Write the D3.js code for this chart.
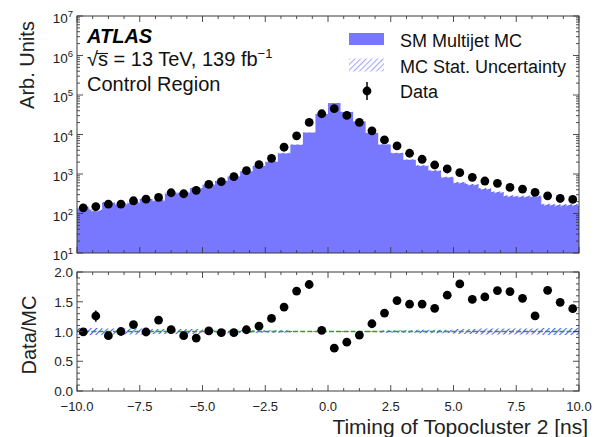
<!DOCTYPE html>
<html><head><meta charset="utf-8">
<script src="https://cdn.jsdelivr.net/npm/d3@7"></script>
<style>
html,body{margin:0;padding:0;background:#fff;}
svg{display:block;font-family:"Liberation Sans",Arial,Helvetica,sans-serif;}
</style></head><body>
<svg id="chart" width="594" height="437"></svg>
<script>
// Timing of topocluster 2, 0.5 ns bins
const binCenters = [-9.75,-9.25,-8.75,-8.25,-7.75,-7.25,-6.75,-6.25,-5.75,-5.25,
  -4.75,-4.25,-3.75,-3.25,-2.75,-2.25,-1.75,-1.25,-0.75,-0.25,
  0.25,0.75,1.25,1.75,2.25,2.75,3.25,3.75,4.25,4.75,
  5.25,5.75,6.25,6.75,7.25,7.75,8.25,8.75,9.25,9.75];
const binWidth = 0.5;

// Observed data (arb. units)
const dataCounts = [139,150,173,173,210,231,255,335,316,385,
  545,638,855,1217,1726,2500,4760,9250,20200,33500,
  45000,30400,20200,12400,7310,5150,3350,2360,1690,1340,
  1080,822,664,579,458,416,342,281,240,227];

// SM multijet MC prediction (arb. units)
const mcCounts = [140,119,186,173,188,233,214,325,340,433,
  540,651,872,1182,1583,2049,3376,5506,11285,32843,
  62500,37073,21489,10973,5580,3388,2295,1616,1216,832,
  600,534,420,343,274,267,271,166,161,164];

// Relative MC statistical uncertainty per bin
const mcRelUnc = [0.06,0.06,0.05,0.05,0.05,0.05,0.04,0.04,0.04,0.04,
  0.03,0.03,0.03,0.02,0.02,0.02,0.02,0.01,0.01,0.01,
  0.01,0.01,0.01,0.01,0.02,0.02,0.02,0.03,0.03,0.03,
  0.04,0.04,0.05,0.05,0.05,0.05,0.05,0.06,0.06,0.06];

// Relative statistical uncertainty of the data
const dataRelErr = [0.04,0.075,0.04,0.04,0.04,0.04,0.04,0.03,0.03,0.03,
  0.03,0.03,0.02,0.02,0.02,0.02,0.01,0.01,0.01,0.01,
  0.01,0.01,0.01,0.01,0.01,0.02,0.02,0.02,0.02,0.02,
  0.03,0.03,0.03,0.03,0.03,0.03,0.03,0.03,0.03,0.03];

const xTicks = [-10,-7.5,-5,-2.5,0,2.5,5,7.5,10];
const xTickLabels = ["\u221210.0","\u22127.5","\u22125.0","\u22122.5","0.0","2.5","5.0","7.5","10.0"];
const logTickExps = [1,2,3,4,5,6,7];
const ratioTicks = [0,0.5,1,1.5,2];
const ratioTickLabels = ["0.0","0.5","1.0","1.5","2.0"];

const barColor = "#7878ff";
const axisColor = "#3a3a3a";

const svg = d3.select("#chart");
const L = 77, R = 579;
const topT = 16, topB = 253, ratT = 272, ratB = 391;

const x = d3.scaleLinear().domain([-10,10]).range([L,R]);
const yTop = d3.scaleLog().domain([10,1e7]).range([topB,topT]);
const yRat = d3.scaleLinear().domain([0,2]).range([ratB,ratT]);

// hatch patterns: thin "/" stripes
const defs = svg.append("defs");
function hatch(id, lineColor, extraColor) {
  const p = defs.append("pattern").attr("id", id)
    .attr("patternUnits","userSpaceOnUse").attr("width",4).attr("height",4)
    .attr("patternTransform","rotate(45)");
  if (extraColor) p.append("rect").attr("x",2).attr("y",0).attr("width",1).attr("height",4).attr("fill",extraColor);
  p.append("rect").attr("x",0).attr("y",0).attr("width",1.1).attr("height",4).attr("fill",lineColor);
}
hatch("hatchTop", "#5c5cff", "rgba(255,255,255,0.7)");
hatch("hatchRatio", "#5a5aff");
hatch("hatchLegend", "#a8a8ff");

const clip = defs.append("clipPath").attr("id","clipTop");
clip.append("rect").attr("x",L).attr("y",topT).attr("width",R-L).attr("height",topB-topT);
const clip2 = defs.append("clipPath").attr("id","clipRat");
clip2.append("rect").attr("x",L).attr("y",ratT).attr("width",R-L).attr("height",ratB-ratT);

// step series over bin edges
const edgePts = binCenters.map((c,i) => ({x: c - binWidth/2, i}));
edgePts.push({x: binCenters[binCenters.length-1] + binWidth/2, i: binCenters.length-1});

// ---------- top panel ----------
const gTop = svg.append("g").attr("clip-path","url(#clipTop)");
gTop.append("path").datum(edgePts)
  .attr("fill", barColor)
  .attr("d", d3.area().x(d => x(d.x)).y0(yTop(10)).y1(d => yTop(mcCounts[d.i])).curve(d3.curveStepAfter));
gTop.append("path").datum(edgePts)
  .attr("fill", "url(#hatchTop)")
  .attr("d", d3.area().x(d => x(d.x))
    .y0(d => yTop(mcCounts[d.i]*(1-mcRelUnc[d.i])))
    .y1(d => yTop(mcCounts[d.i]*(1+mcRelUnc[d.i]))).curve(d3.curveStepAfter));

gTop.selectAll("line.err").data(dataCounts).join("line")
  .attr("x1",(d,i)=>x(binCenters[i])).attr("x2",(d,i)=>x(binCenters[i]))
  .attr("y1",(d,i)=>yTop(d*(1-dataRelErr[i]))).attr("y2",(d,i)=>yTop(d*(1+dataRelErr[i])))
  .attr("stroke","#000").attr("stroke-width",1.5);
gTop.selectAll("circle.pt").data(dataCounts).join("circle")
  .attr("cx",(d,i)=>x(binCenters[i])).attr("cy",d=>yTop(d)).attr("r",4.4).attr("fill","#000");

// ---------- ratio panel ----------
const ratios = dataCounts.map((d,i) => d / mcCounts[i]);
const gRat = svg.append("g").attr("clip-path","url(#clipRat)");
gRat.append("path").datum(edgePts)
  .attr("fill","url(#hatchRatio)")
  .attr("d", d3.area().x(d => x(d.x))
    .y0(d => yRat(1-mcRelUnc[d.i])).y1(d => yRat(1+mcRelUnc[d.i])).curve(d3.curveStepAfter));
gRat.append("line").attr("x1",L).attr("x2",R).attr("y1",yRat(1)).attr("y2",yRat(1))
  .attr("stroke","#2ca02c").attr("stroke-width",1.6).attr("stroke-dasharray","5,2.2");
gRat.selectAll("line.err").data(ratios).join("line")
  .attr("x1",(d,i)=>x(binCenters[i])).attr("x2",(d,i)=>x(binCenters[i]))
  .attr("y1",(d,i)=>yRat(d*(1-dataRelErr[i]))).attr("y2",(d,i)=>yRat(d*(1+dataRelErr[i])))
  .attr("stroke","#000").attr("stroke-width",1.5);
gRat.selectAll("circle.pt").data(ratios).join("circle")
  .attr("cx",(d,i)=>x(binCenters[i])).attr("cy",d=>yRat(d)).attr("r",4.4).attr("fill","#000");

// ---------- axes ----------
function tickLines(g, vals, orient, pos, len, scale) {
  g.selectAll(null).data(vals).join("line")
    .attr("stroke", axisColor).attr("stroke-width",0.9)
    .each(function(v){
      const s = d3.select(this), p = scale(v);
      if (orient === "h") s.attr("x1",p).attr("x2",p).attr("y1",pos).attr("y2",pos+len);
      else s.attr("y1",p).attr("y2",p).attr("x1",pos).attr("x2",pos+len);
    });
}
const xMinor = d3.range(-10, 10.001, 0.625).filter(v => Math.abs(v/2.5 - Math.round(v/2.5)) > 1e-6);
const logMinor = [];
for (let k = 1; k < 7; k++) for (let m = 2; m <= 9; m++) logMinor.push(m*Math.pow(10,k));
const logMajor = logTickExps.map(e => Math.pow(10,e));
const ratMinor = d3.range(0, 2.001, 0.1).filter(v => Math.abs(v/0.5 - Math.round(v/0.5)) > 1e-6);

const gAx = svg.append("g");
[[topT, topB], [ratT, ratB]].forEach(([t,b]) => {
  tickLines(gAx, xTicks, "h", b, -6, x);
  tickLines(gAx, xMinor, "h", b, -3, x);
  tickLines(gAx, xTicks, "h", t, 6, x);
  tickLines(gAx, xMinor, "h", t, 3, x);
});
tickLines(gAx, logMajor, "v", L, 6, yTop);
tickLines(gAx, logMinor, "v", L, 3, yTop);
tickLines(gAx, logMajor, "v", R, -6, yTop);
tickLines(gAx, logMinor, "v", R, -3, yTop);
tickLines(gAx, ratioTicks, "v", L, 6, yRat);
tickLines(gAx, ratMinor, "v", L, 3, yRat);
tickLines(gAx, ratioTicks, "v", R, -6, yRat);
tickLines(gAx, ratMinor, "v", R, -3, yRat);

gAx.append("rect").attr("x",L).attr("y",topT).attr("width",R-L).attr("height",topB-topT)
  .attr("fill","none").attr("stroke",axisColor).attr("stroke-width",1);
gAx.append("rect").attr("x",L).attr("y",ratT).attr("width",R-L).attr("height",ratB-ratT)
  .attr("fill","none").attr("stroke",axisColor).attr("stroke-width",1);

// tick labels
const tickFont = 13.5;
logTickExps.forEach(e => {
  const t = svg.append("text").attr("x",73).attr("y",yTop(Math.pow(10,e))+7)
    .attr("text-anchor","end").attr("font-size",tickFont).attr("fill","#222");
  t.append("tspan").text("10");
  t.append("tspan").attr("dy",-6).attr("font-size",9.5).text(e);
});
ratioTicks.forEach((v,i) => {
  svg.append("text").attr("x",73).attr("y",yRat(v)+5)
    .attr("text-anchor","end").attr("font-size",tickFont).attr("fill","#222").text(ratioTickLabels[i]);
});
xTicks.forEach((v,i) => {
  svg.append("text").attr("x",x(v)).attr("y",411)
    .attr("text-anchor","middle").attr("font-size",13).attr("fill","#222").text(xTickLabels[i]);
});

// axis titles
svg.append("text").attr("transform","translate(34,65) rotate(-90)")
  .attr("text-anchor","middle").attr("font-size",20).attr("fill","#222").text("Arb. Units");
svg.append("text").attr("transform","translate(35.5,335) rotate(-90)")
  .attr("text-anchor","middle").attr("font-size",20).attr("fill","#222").text("Data/MC");
svg.append("text").attr("x",R+9).attr("y",433.5).attr("text-anchor","end")
  .attr("font-size",21).attr("fill","#222").text("Timing of Topocluster 2 [ns]");

// ATLAS label block
svg.append("text").attr("x",87).attr("y",43).attr("font-size",20)
  .attr("font-weight","bold").attr("font-style","italic").attr("fill","#000").text("ATLAS");
const lumi = svg.append("text").attr("x",87).attr("y",66).attr("font-size",20).attr("fill","#111");
lumi.append("tspan").text("\u221As = 13 TeV, 139 fb");
lumi.append("tspan").attr("dy",-8).attr("font-size",13).text("\u22121");
{
  const n = lumi.node();
  const e0 = n.getExtentOfChar(0), e1 = n.getExtentOfChar(1);
  svg.append("line").attr("x1",e0.x + e0.width*0.85).attr("x2",e1.x + e1.width)
    .attr("y1",66-12.5).attr("y2",66-12.5).attr("stroke","#111").attr("stroke-width",1.1);
}
svg.append("text").attr("x",87).attr("y",91).attr("font-size",20).attr("fill","#111").text("Control Region");

// legend
const lg = svg.append("g");
lg.append("rect").attr("x",349).attr("y",33).attr("width",35).attr("height",12).attr("fill",barColor);
lg.append("rect").attr("x",349).attr("y",58.5).attr("width",35).attr("height",13).attr("fill","url(#hatchLegend)");
lg.append("line").attr("x1",367).attr("x2",367).attr("y1",82).attr("y2",100).attr("stroke","#000").attr("stroke-width",1.5);
lg.append("circle").attr("cx",367).attr("cy",91).attr("r",4.4).attr("fill","#000");
[["SM Multijet MC",46.7],["MC Stat. Uncertainty",72.5],["Data",98.3]].forEach(([t,y]) => {
  lg.append("text").attr("x",400).attr("y",y).attr("font-size",18).attr("fill","#111").text(t);
});
</script>
</body></html>
